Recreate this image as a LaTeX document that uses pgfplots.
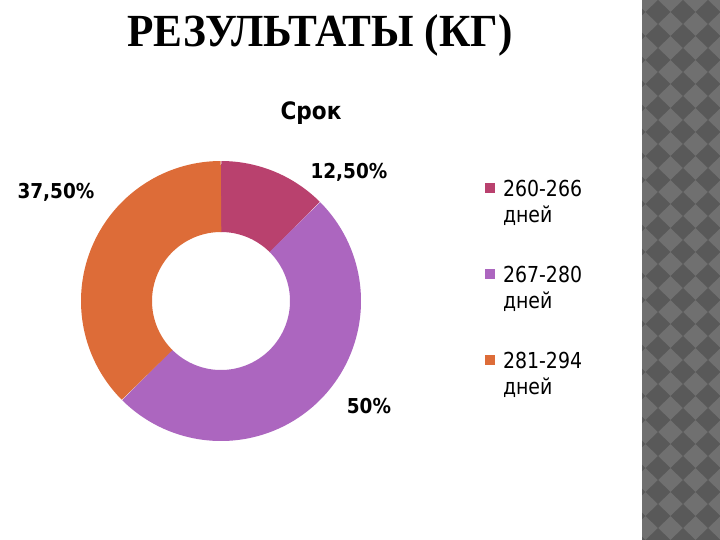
\documentclass[border=0pt]{standalone}
\usepackage{fontspec}
\setmainfont{DejaVu Sans}[FakeStretch=0.86, BoldFeatures={FakeStretch=0.9}]
\newfontfamily\titlefont{Liberation Serif}[BoldFeatures={FakeStretch=0.94}]
\usepackage{pgfplots}
\pgfplotsset{compat=1.18}
\usepackage{pgfplotstable}

\definecolor{cA}{HTML}{B9416E}
\definecolor{cB}{HTML}{AC66BF}
\definecolor{cC}{HTML}{DD6C38}
\definecolor{stripL}{HTML}{707070}
\definecolor{stripD}{HTML}{595959}

\pgfplotstableread{
value
12.5
50
37.5
}\donutdata

\newcommand\legtext[1]{\begin{tabular}[t]{@{}l@{}}#1\\дней\end{tabular}}

\begin{document}
\begin{tikzpicture}
\pgfplotstablegetelem{0}{value}\of\donutdata \let\va\pgfplotsretval
\pgfplotstablegetelem{1}{value}\of\donutdata \let\vb\pgfplotsretval
\pgfplotstablegetelem{2}{value}\of\donutdata \let\vc\pgfplotsretval
\pgfmathsetmacro\aA{90}
\pgfmathsetmacro\aB{\aA-3.6*\va}
\pgfmathsetmacro\aC{\aB-3.6*\vb}
\pgfmathsetmacro\aD{\aC-3.6*\vc}

\begin{scope}[x=1bp,y=-1bp]
\path[use as bounding box] (0,0) rectangle (720,540);
\fill[white] (0,0) rectangle (720,540);
\begin{scope}
\clip (642,0) rectangle (720,540);
\fill[stripL] (642,0) rectangle (720,540);
\foreach \i in {0,...,4} {
  \foreach \j in {-1,...,23} {
    \pgfmathsetmacro\cx{633+25*\i}
    \pgfmathsetmacro\cy{12+24*\j}
    \fill[stripD] (\cx-12.5,\cy) -- (\cx,\cy-12) -- (\cx+12.5,\cy) -- (\cx,\cy+12) -- cycle;
  }
}
\end{scope}
\node[anchor=base, font=\titlefont\bfseries\fontsize{46bp}{50bp}\selectfont, inner sep=0pt] at (320,47) {РЕЗУЛЬТАТЫ (КГ)};
\end{scope}

\begin{axis}[
  at={(221bp,-301bp)}, anchor=center,
  scale only axis, width=280bp, height=280bp,
  xmin=-1, xmax=1, ymin=-1, ymax=1,
  hide axis, clip=false,
  legend image code/.code={\fill[#1, draw=none, line width=0pt] (0bp,3bp) rectangle (10bp,13bp);},
  legend style={draw=none, fill=none, at={(axis description cs:1.443,0.946)}, anchor=north west,
    inner sep=0pt, outer sep=0pt, row sep=26bp, column sep=8bp,
    cells={anchor=base west},
    nodes={inner sep=0pt, text height=20bp, text depth=40bp, font=\fontsize{22bp}{26bp}\selectfont}},
]
\addplot[cA, line width=71bp, domain=\aB:\aA, samples=100] ({0.7464*cos(x)},{0.7464*sin(x)});
\addlegendentry{\legtext{260-266}}
\addplot[cB, line width=71bp, domain=\aC:\aB, samples=200] ({0.7464*cos(x)},{0.7464*sin(x)});
\addlegendentry{\legtext{267-280}}
\addplot[cC, line width=71bp, domain=\aD:\aC, samples=160] ({0.7464*cos(x)},{0.7464*sin(x)});
\addlegendentry{\legtext{281-294}}

\node[font=\bfseries\fontsize{20.5bp}{24bp}\selectfont] at (axis cs:0.914,0.921) {12,50\%};
\node[font=\bfseries\fontsize{20.5bp}{24bp}\selectfont] at (axis cs:-1.179,0.779) {37,50\%};
\node[font=\bfseries\fontsize{20.5bp}{24bp}\selectfont] at (axis cs:1.057,-0.75) {50\%};
\node[font=\bfseries\fontsize{24bp}{28bp}\selectfont] at (axis cs:0.643,1.343) {Срок};
\end{axis}
\end{tikzpicture}
\end{document}
